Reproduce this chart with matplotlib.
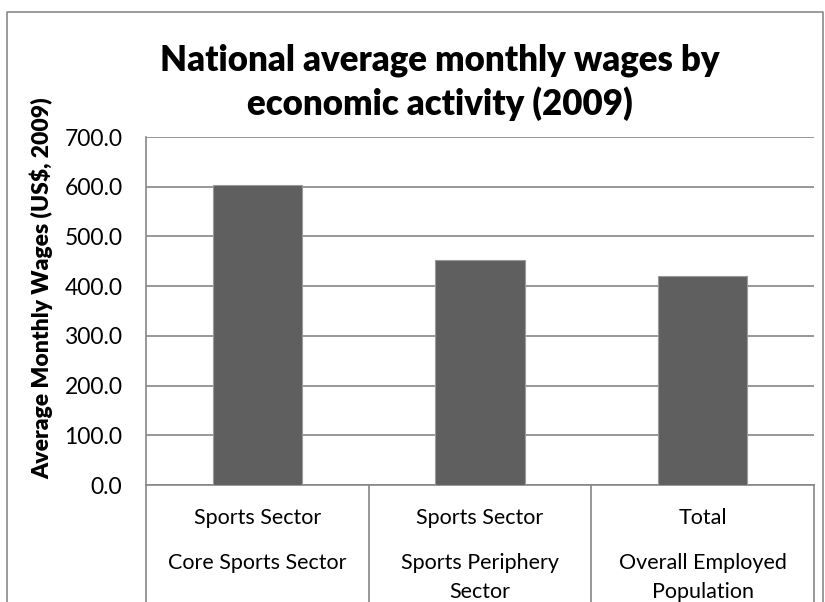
import matplotlib
matplotlib.use("Agg")
import matplotlib.pyplot as plt
from matplotlib.lines import Line2D
from matplotlib.transforms import blended_transform_factory

plt.rcParams['font.family'] = ['Lato', 'DejaVu Sans']

# Data
groups = ["Sports Sector", "Sports Sector", "Total"]
categories = ["Core Sports Sector", "Sports Periphery\nSector", "Overall Employed\nPopulation"]
wages = [603.0, 453.0, 420.0]
yticks = [0, 100, 200, 300, 400, 500, 600, 700]

W, H = 825, 602
fig = plt.figure(figsize=(W / 100, H / 100), dpi=100)

def fx(px):
    return px / W

def fy(py):
    return 1 - py / H

L, R, T, B = 146, 814, 137, 485
ax = fig.add_axes([fx(L), fy(B), fx(R) - fx(L), fy(T) - fy(B)])

grid_c = "#868686"
x = list(range(len(wages)))
ax.bar(x, wages, width=0.4, color="#5f5f5f", edgecolor="#9a9a9a", linewidth=0.8, zorder=3)

ax.set_xlim(-0.5, len(wages) - 0.5)
ax.set_ylim(0, 700)
ax.set_yticks(yticks)
ax.set_yticklabels([f"{v:.1f}" for v in yticks], fontsize=16.5)
ax.tick_params(axis="y", length=0, pad=17)
ax.set_xticks([])
ax.yaxis.grid(True, color=grid_c, linewidth=1.2, zorder=0)
ax.set_axisbelow(True)
for side in ("top", "right"):
    ax.spines[side].set_visible(False)
ax.spines["left"].set_color(grid_c)
ax.spines["left"].set_linewidth(1.2)
ax.spines["bottom"].set_color(grid_c)
ax.spines["bottom"].set_linewidth(1.2)

# Category separators running down from the axis
tr = blended_transform_factory(ax.transData, fig.transFigure)
for b in [-0.5 + i for i in range(len(wages) + 1)]:
    fig.add_artist(Line2D([b, b], [fy(B), 0], transform=tr, color=grid_c,
                          linewidth=1.2, clip_on=False))

# Two-level category labels
for i, (g, c) in enumerate(zip(groups, categories)):
    fig.text(i, fy(518), g, transform=tr, ha="center", va="center", fontsize=15.5)
    for j, line in enumerate(c.split("\n")):
        fig.text(i, fy(563 + 29 * j), line, transform=tr, ha="center", va="center",
                 fontsize=15.5)

# Title and y-axis label
fig.text(fx(440), fy(60), "National average monthly wages by", ha="center", va="center",
         fontsize=25, fontweight="heavy")
fig.text(fx(440), fy(104), "economic activity (2009)", ha="center", va="center",
         fontsize=25, fontweight="heavy")
fig.text(fx(42), fy(288), r"Average Monthly Wages (US\$, 2009)", rotation=90,
         ha="center", va="center", fontsize=16.5, fontweight="heavy")

# Chart border
border_c = "#8a8a8a"
fig.add_artist(Line2D([fx(7), fx(7), fx(823), fx(823)], [0, fy(12), fy(12), 0],
                      transform=fig.transFigure, color=border_c, linewidth=1.2))

fig.savefig("out.png", dpi=100)
